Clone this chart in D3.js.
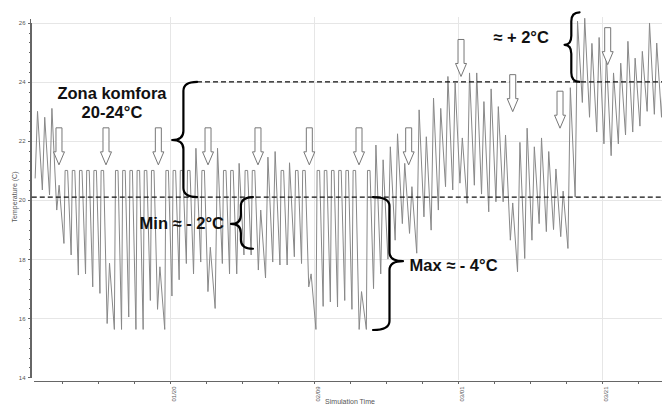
<!DOCTYPE html>
<html lang="hr">
<head>
<meta charset="UTF-8">
<title>Temperatura u zoni komfora</title>
<style>
  body { margin: 0; background: #fff; }
  svg { display: block; font-family: "Liberation Sans", Arial, sans-serif; }
  .grid line { stroke: #e6e6e6; stroke-width: 1; shape-rendering: crispEdges; }
  .axis path, .axis line { stroke: #666; shape-rendering: crispEdges; }
  .axis text { fill: #555; font-size: 6px; }
  .axis-title { fill: #555; font-size: 7px; }
  .temp-line { fill: none; stroke: #888; stroke-width: 1; }
  .limit { stroke: #111; stroke-width: 1.3; stroke-dasharray: 5 3; }
  .brace { fill: none; stroke: #000; stroke-width: 2.2; stroke-linecap: round; stroke-linejoin: round; }
  .arrow { fill: #fff; stroke: #777; stroke-width: 1; }
  .note { font-weight: bold; font-size: 16.5px; fill: #111; }
</style>
<script src="https://d3js.org/d3.v7.min.js"></script>
</head>
<body>
<script>
  // daily values, day 0 = 1 Jan
  const startTemp = 20.73;
  const dayHigh = [
    23.0, 22.8, 23.1, 20.5, 21, 21, 21, 21, 21, 21,
    17.86, 21, 21, 21, 21, 21, 21, 17.74, 21, 21,
    21, 21, 21.75, 21, 18.4, 21.75, 21, 21, 21.24, 21,
    21, 19.66, 21.45, 21.64, 21, 21.26, 21, 21, 17.5, 21,
    21, 21, 21, 21, 21, 16.9, 21, 21.86, 21.36, 21.8,
    22.24, 21.24, 20.45, 23.05, 22.14, 23.45, 23.1, 24.18, 23.96, 22.1,
    24.3, 24.3, 23.33, 23.76, 23.16, 22.2, 19.9, 21.95, 22.43, 21.8,
    22.1, 21.64, 21.05, 20.3, 23.8, 26.05, 26.15, 25.3, 25.5, 24.9,
    24.3, 24.63, 25.37, 24.8, 25.03, 25.99, 25.31, 24.6
  ];
  const dayLow = [
    20.34, 20.17, 19.66, 18.53, 18.14, 17.46, 17.5, 17.06, 16.84, 15.82,
    15.62, 15.62, 16.04, 15.62, 15.62, 16.6, 16.3, 15.62, 16.75, 17.3,
    17.85, 17.5, 17.9, 16.9, 16.33, 17.85, 17.5, 17.5, 18.14, 18.14,
    17.63, 17.36, 17.9, 17.8, 17.8, 18.08, 17.85, 17.06, 15.62, 16.4,
    16.55, 16.38, 16.6, 16.3, 15.62, 15.62, 17.0, 17.5, 18.0, 18.64,
    19.2, 18.87, 18.2, 19.43, 18.98, 19.66, 20.45, 20.34, 20.57, 19.89,
    20.5, 20.2, 19.6, 19.94, 19.94, 18.64, 17.57, 18.02, 18.64, 19.2,
    18.93, 19.0, 18.76, 18.36, 20.1, 23.3, 22.8, 22.3, 21.9, 21.5,
    21.9, 22.2, 22.3, 22.5, 23.0, 22.9, 22.8, 22.9
  ];
  const setpoint = 21;

  const yTicks = [14, 16, 18, 20, 22, 24, 26];
  const yGrid = [16, 18, 20, 22, 24, 26];
  const xLabels = ["01/20", "02/09", "03/01", "03/21"];

  // comfort zone limits (dashed)
  const limitTemps = [24, 20.1];
  const limitStartDay = [22.75, -0.2];

  // weekend arrows: day and temperature at the tip
  const arrowDays = [3.58, 10.11, 17.38, 24.28, 31.22, 38.35, 45.25, 52.15, 59.42, 66.6, 73.17, 79.79];
  const arrowTips = [21.19, 21.19, 21.19, 21.19, 21.19, 21.19, 21.19, 21.19, 24.18, 22.99, 22.43, 24.58];

  const braces = [
    { day: 19.3, top: 24, bottom: 20.1, tip: 22.03, w: 25, side: "left" },
    { day: 27.47, top: 20.1, bottom: 18.35, tip: 19.19, w: 22, side: "left" },
    { day: 51.36, top: 20.1, bottom: 15.6, tip: 17.93, w: 30, side: "right" },
    { day: 73.8, top: 26.35, bottom: 24, tip: 25.25, w: 15, side: "left" }
  ];

  const notes = [
    { text: "Zona komfora", day: 10.94, temp: 23.43, anchor: "middle" },
    { text: "20-24°C", day: 10.94, temp: 22.76, anchor: "middle" },
    { text: "Min ≈ - 2°C", day: 26.5, temp: 19.02, anchor: "end" },
    { text: "Max ≈ - 4°C", day: 52.26, temp: 17.61, anchor: "start" },
    { text: "≈ + 2°C", day: 63.9, temp: 25.3, anchor: "start" }
  ];

  const width = 662, height = 405;
  const t0 = Date.UTC(2021, 0, 1);
  const toDate = d => new Date(t0 + d * 864e5);

  const svg = d3.select("body").append("svg")
    .attr("width", width)
    .attr("height", height);

  const x = d3.scaleUtc()
    .domain([toDate(0), toDate(88)])
    .range([33.2, 666.8]);

  const y = d3.scaleLinear()
    .domain([14, 26])
    .range([377.3, 22.7]);

  const fmt = d3.utcFormat("%m/%d");
  const tickDates = d3.range(4, 88, 5).map(toDate);
  const labelDates = tickDates.filter(d => xLabels.includes(fmt(d)));

  // grid
  const grid = svg.append("g").attr("class", "grid");
  grid.selectAll(".h").data(yGrid).enter().append("line")
    .attr("x1", 30).attr("x2", width)
    .attr("y1", d => Math.round(y(d)) + 0.5).attr("y2", d => Math.round(y(d)) + 0.5);
  grid.selectAll(".v").data(labelDates).enter().append("line")
    .attr("x1", d => Math.round(x(d)) + 0.5).attr("x2", d => Math.round(x(d)) + 0.5)
    .attr("y1", 17).attr("y2", 380);

  // y axis with minor ticks
  svg.append("g")
    .attr("class", "axis")
    .attr("transform", "translate(30.5,0)")
    .call(d3.axisLeft(y).tickValues(d3.range(14, 26.01, 1 / 3)).tickSize(2).tickFormat("").tickSizeOuter(0));
  svg.append("g")
    .attr("class", "axis")
    .attr("transform", "translate(30.5,0)")
    .call(d3.axisLeft(y).tickValues(yTicks).tickSize(3).tickPadding(2).tickSizeOuter(0))
    .call(g => g.select(".domain").attr("d", `M0,${y(14)}V19`));

  // x axis
  const xAxis = svg.append("g")
    .attr("class", "axis")
    .attr("transform", "translate(0,380.5)")
    .call(d3.axisBottom(x).tickValues(tickDates).tickSize(3).tickSizeOuter(0)
      .tickFormat(d => xLabels.includes(fmt(d)) ? fmt(d) : ""));
  xAxis.selectAll("text")
    .attr("transform", "rotate(-90)")
    .attr("text-anchor", "end")
    .attr("x", -6)
    .attr("y", 0)
    .attr("dy", "0.85em");

  svg.append("text")
    .attr("class", "axis-title")
    .attr("text-anchor", "middle")
    .attr("transform", "translate(16.5,197) rotate(-90)")
    .text("Temperature (C)");
  svg.append("text")
    .attr("class", "axis-title")
    .attr("text-anchor", "middle")
    .attr("x", 350)
    .attr("y", 403.5)
    .text("Simulation Time");

  // temperature series: heating on in the morning, plateau at setpoint, cool down at night
  const points = [];
  dayHigh.forEach((hi, d) => {
    points.push([d + 0.27, d === 0 ? startTemp : dayLow[d - 1]]);
    if (hi === setpoint) {
      points.push([d + 0.43, hi]);
      points.push([d + 0.78, hi]);
    } else {
      points.push([d + 0.60, hi]);
    }
  });
  points.push([dayHigh.length + 0.27, dayLow[dayLow.length - 1]]);

  const line = d3.line()
    .x(p => x(toDate(p[0])))
    .y(p => y(p[1]));

  svg.append("path")
    .datum(points)
    .attr("class", "temp-line")
    .attr("d", line);

  // comfort limits
  svg.selectAll(".limit").data(limitTemps).enter().append("line")
    .attr("class", "limit")
    .attr("x1", (d, i) => x(toDate(limitStartDay[i])))
    .attr("x2", width)
    .attr("y1", d => y(d)).attr("y2", d => y(d));

  // braces
  function bracePath(b) {
    const s = b.side === "left" ? 1 : -1;
    const xt = x(toDate(b.day));
    const xh = xt + s * b.w;
    const xs = xt + s * b.w * 0.45;
    const y0 = y(b.top), y1 = y(b.bottom), ym = y(b.tip);
    const r = 9;
    return `M${xh},${y0} Q${xs},${y0} ${xs},${y0 + r} L${xs},${ym - r} ` +
      `Q${xs},${ym} ${xt},${ym} Q${xs},${ym} ${xs},${ym + r} ` +
      `L${xs},${y1 - r} Q${xs},${y1} ${xh},${y1}`;
  }
  svg.selectAll(".brace").data(braces).enter().append("path")
    .attr("class", "brace")
    .attr("d", bracePath);

  // weekend arrows
  svg.selectAll(".arrow").data(arrowDays).enter().append("path")
    .attr("class", "arrow")
    .attr("d", (d, i) => {
      const tx = x(toDate(d)), ty = y(arrowTips[i]);
      return `M${tx - 3},${ty - 37} L${tx + 3},${ty - 37} L${tx + 3},${ty - 13} L${tx + 5.5},${ty - 13} ` +
        `L${tx},${ty} L${tx - 5.5},${ty - 13} L${tx - 3},${ty - 13} Z`;
    });

  svg.selectAll(".note").data(notes).enter().append("text")
    .attr("class", "note")
    .attr("text-anchor", d => d.anchor)
    .attr("x", d => x(toDate(d.day)))
    .attr("y", d => y(d.temp))
    .text(d => d.text);
</script>
</body>
</html>
